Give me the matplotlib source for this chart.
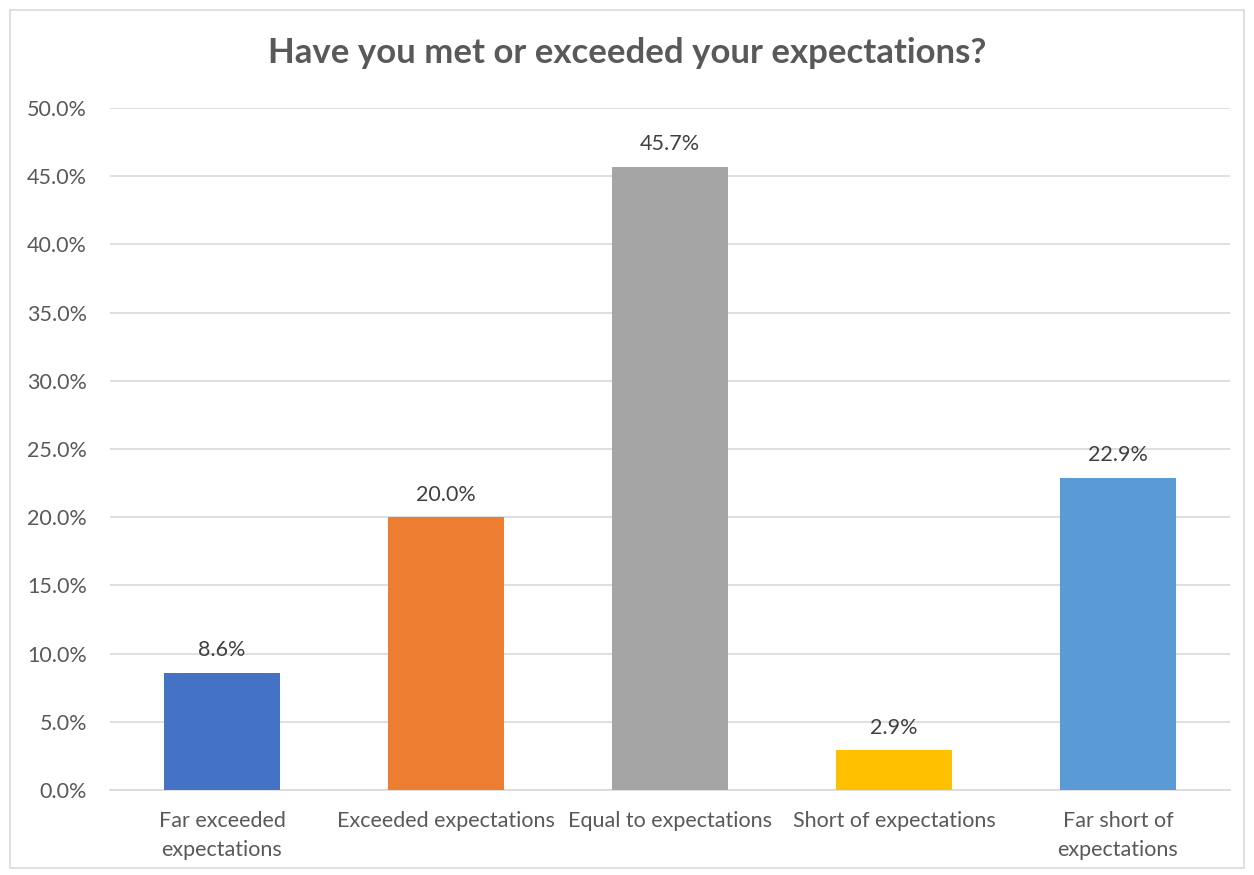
import matplotlib.pyplot as plt
from matplotlib.patches import Rectangle
from matplotlib.ticker import FuncFormatter, MultipleLocator

categories = ["Far exceeded\nexpectations", "Exceeded expectations",
              "Equal to expectations", "Short of expectations",
              "Far short of\nexpectations"]
shares = [8.6, 20.0, 45.7, 2.9, 22.9]
colors = ["#4472C4", "#ED7D31", "#A5A5A5", "#FFC000", "#5B9BD5"]

plt.rcParams["font.family"] = ["Lato", "DejaVu Sans"]

fig = plt.figure(figsize=(12.54, 8.75), dpi=100)
# chart border
fig.patches.append(Rectangle((10 / 1254, 1 - 868 / 875), 1234 / 1254, 858 / 875,
                             transform=fig.transFigure, fill=False,
                             edgecolor="#D9D9D9", linewidth=1.2))

ax = fig.add_axes([110 / 1254, 1 - 790 / 875, 1120 / 1254, 682 / 875])
x = range(len(categories))
ax.bar(x, shares, width=0.515, color=colors, zorder=3)

for xi, v in zip(x, shares):
    ax.annotate(f"{v:.1f}%", (xi, v), xytext=(0, 9), textcoords="offset points",
                ha="center", va="bottom", fontsize=15.5, color="#404040")

ax.set_xlim(-0.5, len(categories) - 0.5)
ax.set_ylim(0, 50)
ax.yaxis.set_major_locator(MultipleLocator(5))
ax.yaxis.set_major_formatter(FuncFormatter(lambda v, _: f"{v:.1f}%"))
ax.set_xticks(list(x))
ax.set_xticklabels(categories, linespacing=1.6)
ax.tick_params(axis="both", length=0, labelsize=15.5, labelcolor="#595959")
ax.tick_params(axis="x", pad=15)
ax.tick_params(axis="y", pad=16.5)
ax.grid(axis="y", color="#D9D9D9", linewidth=1.2, zorder=0)
for s in ["top", "right", "left"]:
    ax.spines[s].set_visible(False)
ax.spines["bottom"].set_color("#D9D9D9")
ax.spines["bottom"].set_linewidth(1.2)

fig.text(0.5, 1 - 53 / 875, "Have you met or exceeded your expectations?",
         ha="center", va="center", fontsize=25, fontweight="bold", color="#595959")

fig.savefig("out.png", dpi=100)
